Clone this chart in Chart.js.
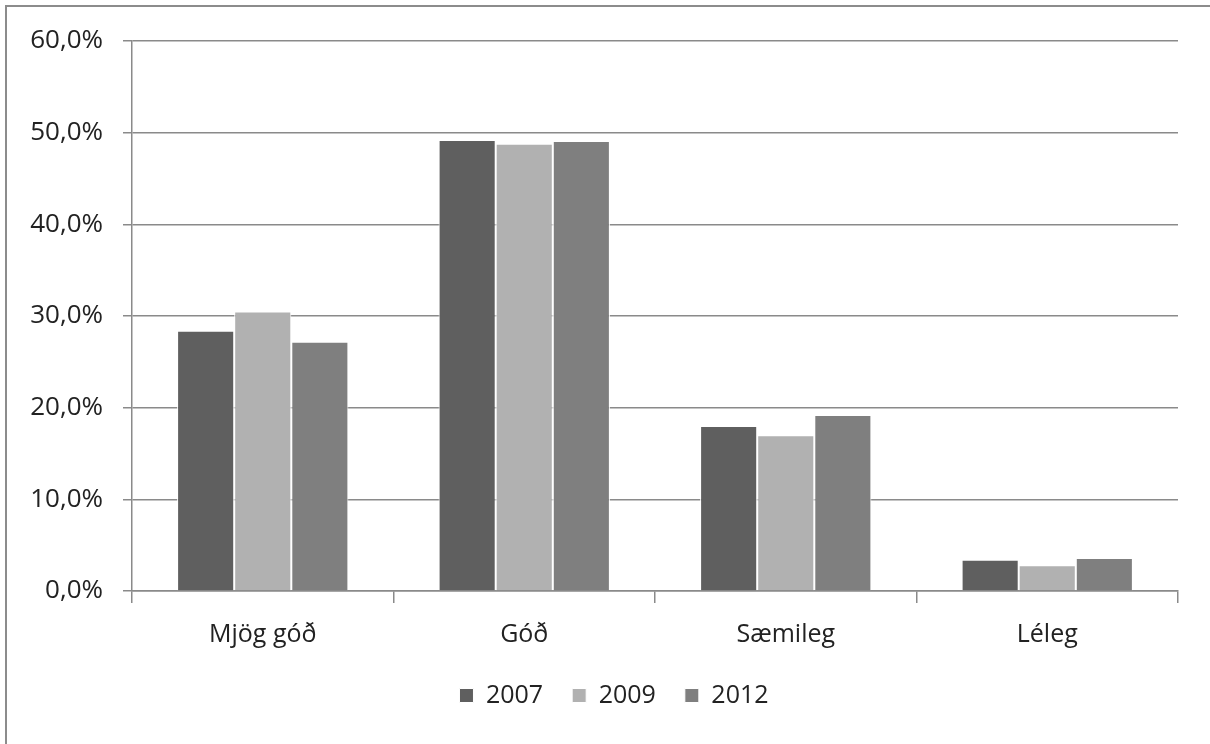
<!DOCTYPE html>
<html>
<head>
<meta charset="utf-8">
<script src="https://cdn.jsdelivr.net/npm/chart.js@4.4.1/dist/chart.umd.min.js"></script>
<style>
  html, body { margin: 0; padding: 0; background: #fff; overflow: hidden; }
  #wrap { position: relative; width: 1210px; height: 744px; }
  #frame {
    position: absolute; left: 5px; top: 5px; width: 1300px; height: 900px;
    border-left: 2px solid #8c8c8c; border-top: 2px solid #8c8c8c;
  }
  canvas { position: absolute; left: 0; top: 0; }
</style>
</head>
<body>
<div id="wrap">
  <div id="frame"></div>
  <canvas id="chart" width="1210" height="744"></canvas>
</div>
<script>
// Chart data
var categories = ["Mjög góð", "Góð", "Sæmileg", "Léleg"];
var years = ["2007", "2009", "2012"];
var values2007 = [28.4, 49.2, 18.0, 3.4];
var values2009 = [30.5, 48.8, 17.0, 2.8];
var values2012 = [27.2, 49.1, 19.2, 3.6];
var yTicks = [0, 10, 20, 30, 40, 50, 60];

var barColors = ["#5f5f5f", "#b1b1b1", "#7f7f7f"];
var textColor = "#222222";
var gridColor = "#8a8a8a";
var fontFamily = "'Open Sans', sans-serif";

// wider letters, the picture's text is a bit stretched
var spacingPlugin = {
  id: "spacing",
  beforeInit: function(chart) {
    chart.ctx.letterSpacing = "2px";
  },
  // legend sits a bit right of the canvas centre in the picture
  afterLayout: function(chart) {
    if (chart.legend) {
      chart.legend.left += 25;
      chart.legend.right += 25;
    }
  }
};

function makeDataset(label, data, color) {
  return {
    label: label,
    data: data,
    backgroundColor: color,
    borderColor: "#ffffff",
    borderWidth: 1,
    categoryPercentage: 0.655,
    barPercentage: 1.0
  };
}

var ctx = document.getElementById("chart").getContext("2d");

var chart = new Chart(ctx, {
  type: "bar",
  data: {
    labels: categories,
    datasets: [
      makeDataset(years[0], values2007, barColors[0]),
      makeDataset(years[1], values2009, barColors[1]),
      makeDataset(years[2], values2012, barColors[2])
    ]
  },
  plugins: [spacingPlugin],
  options: {
    responsive: false,
    animation: false,
    devicePixelRatio: 1,
    layout: {
      padding: { top: 41, right: 32, left: 0, bottom: 26 }
    },
    font: { family: fontFamily, size: 25 },
    plugins: {
      tooltip: { enabled: false },
      legend: {
        position: "bottom",
        labels: {
          boxWidth: 14,
          boxHeight: 14,
          padding: 29,
          color: textColor,
          font: { family: fontFamily, size: 25 }
        }
      }
    },
    scales: {
      x: {
        offset: true,
        grid: {
          offset: true,
          drawOnChartArea: false,
          drawTicks: true,
          tickLength: 12,
          color: gridColor,
          lineWidth: 1.5
        },
        border: { color: gridColor, width: 1.5 },
        ticks: {
          color: textColor,
          padding: 17,
          font: { family: fontFamily, size: 25 }
        },
        afterFit: function(axis) { axis.height = 63; }
      },
      y: {
        min: 0,
        max: 60,
        afterBuildTicks: function(axis) {
          axis.ticks = yTicks.map(function(v) { return { value: v }; });
        },
        grid: {
          color: gridColor,
          lineWidth: 1.5,
          tickLength: 9
        },
        border: { color: gridColor, width: 1.5 },
        ticks: {
          color: textColor,
          padding: 20,
          font: { family: fontFamily, size: 26 },
          callback: function(v) { return v.toFixed(1).replace(".", ",") + "%"; }
        },
        afterFit: function(axis) { axis.width = 132; }
      }
    }
  }
});
</script>
</body>
</html>
